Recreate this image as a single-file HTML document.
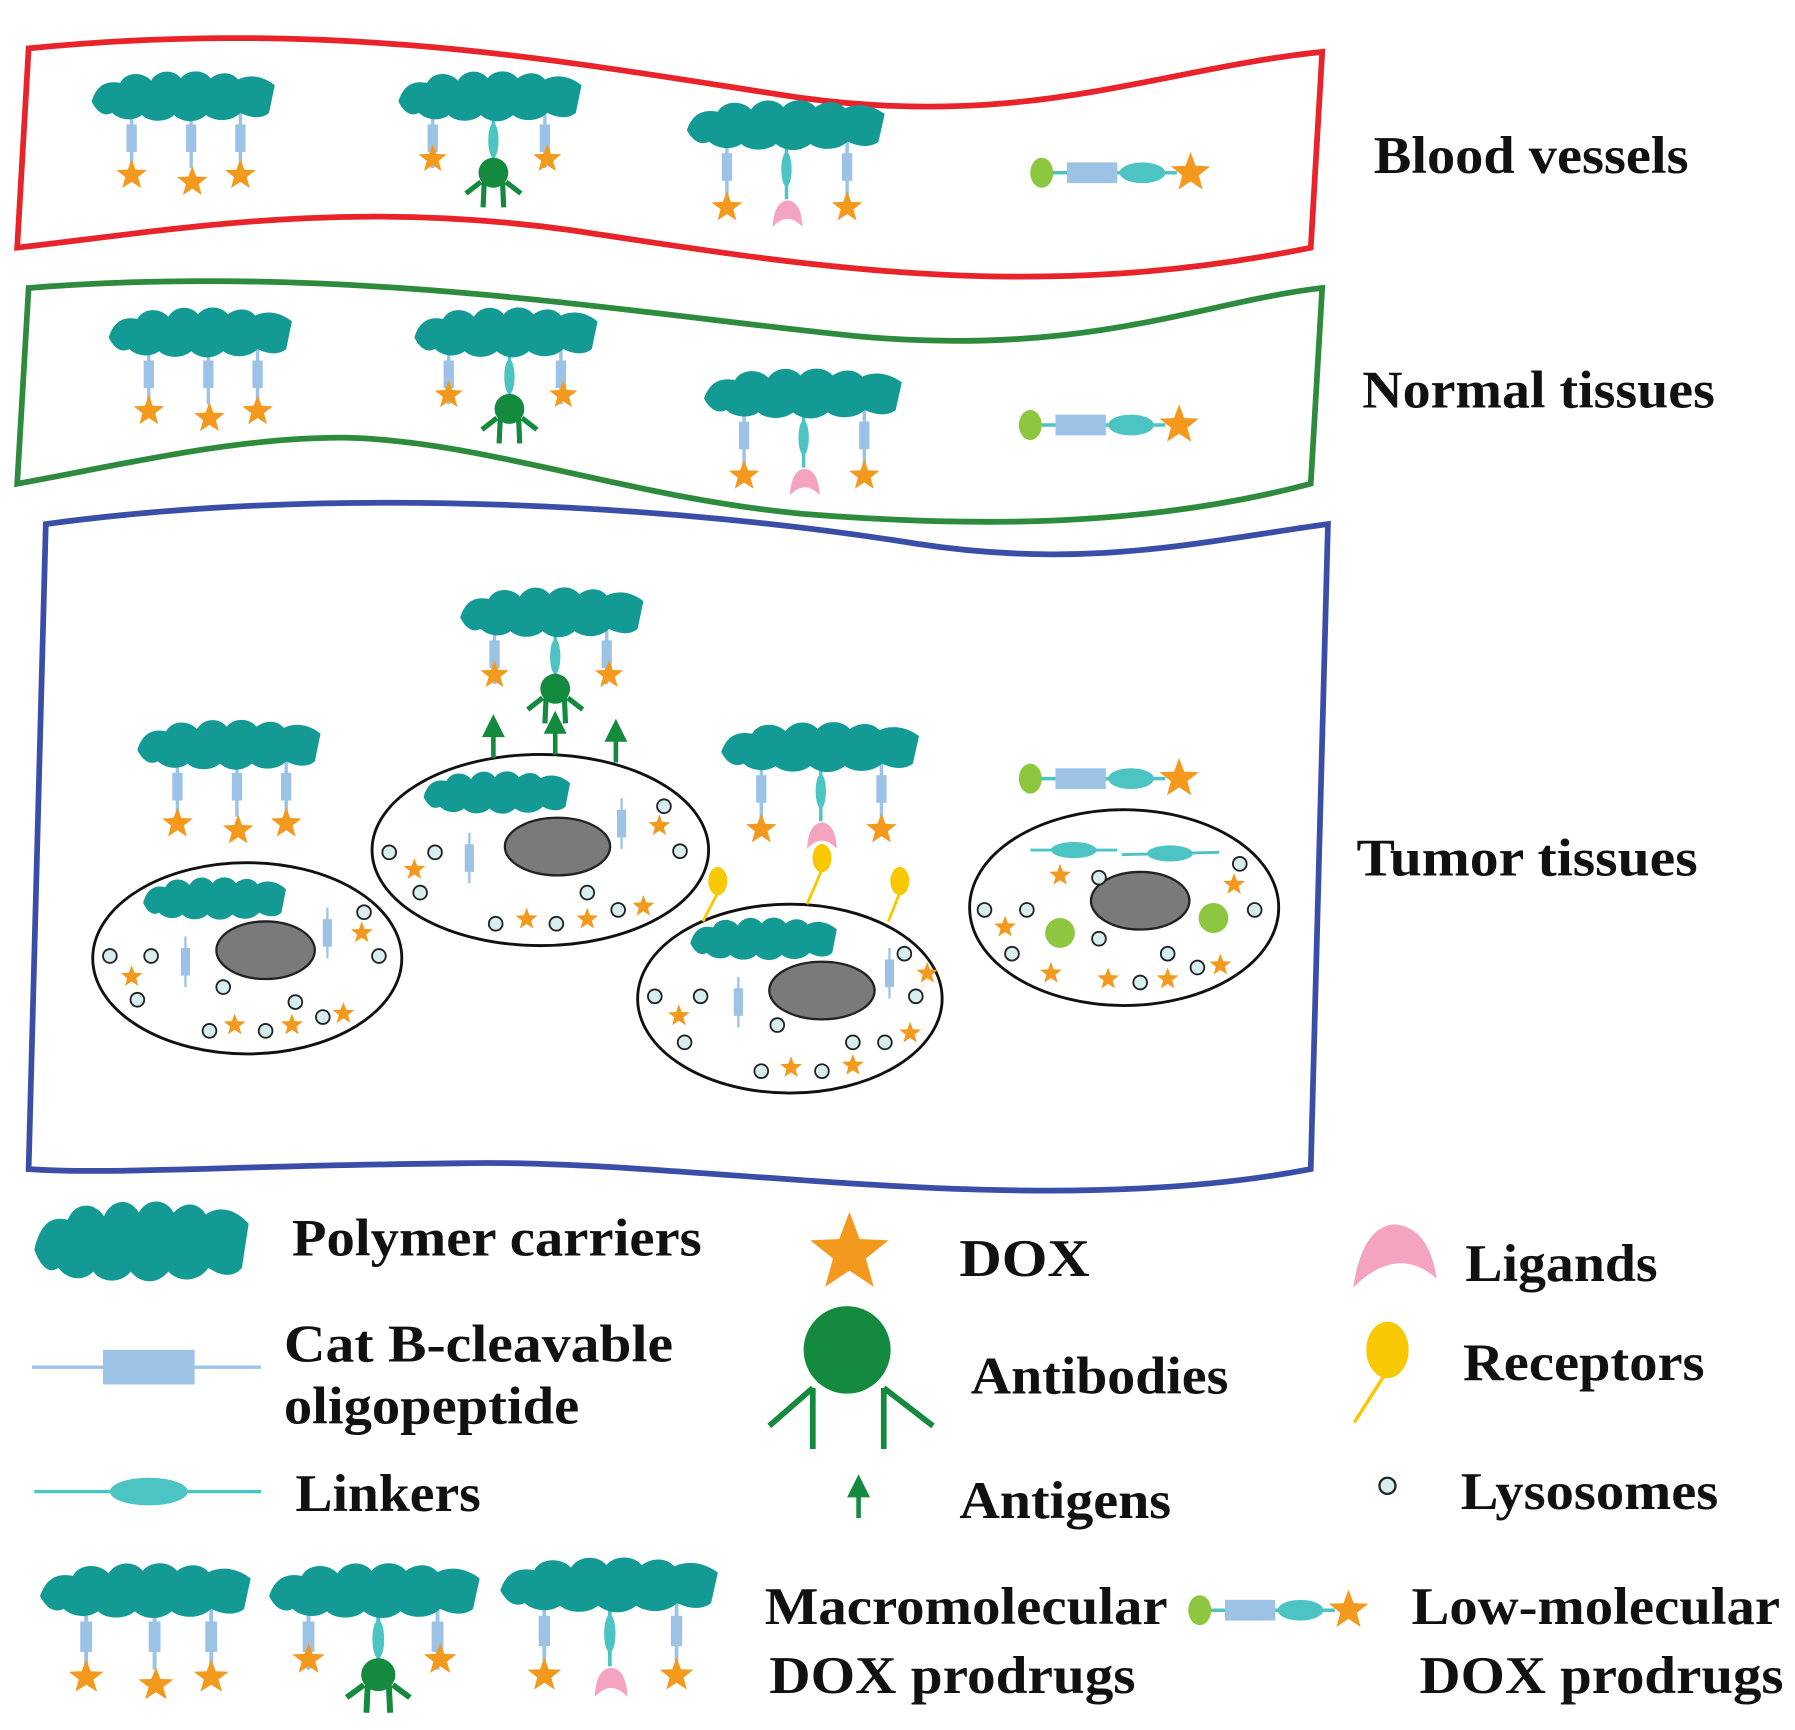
<!DOCTYPE html>
<html><head><meta charset="utf-8"><style>html,body{margin:0;padding:0;background:#fff}svg{display:block}</style></head><body>
<svg width="1795" height="1730" viewBox="0 0 1568 1502" preserveAspectRatio="none" xmlns="http://www.w3.org/2000/svg">
<defs>
<polygon id="st" points="0,-1 .247,-.34 .951,-.309 .399,.13 .588,.809 0,.42 -.588,.809 -.399,.13 -.951,-.309 -.247,-.34" fill="#f39a1e"/>
<g id="poly" fill="#139a94">
<path d="M0,28 C5,12 15,10 25,12 C30,2 45,2 52,10 C58,0 72,0 78,8 C84,0 98,0 104,8 C112,2 122,2 128,9 C138,4 150,6 160,14 L155,38 C148,44 138,42 130,38 C122,46 108,46 100,40 C92,47 80,47 72,40 C64,47 50,46 44,40 C36,46 24,44 18,38 C10,42 4,36 0,28 Z"/>
</g>
<g id="bp"><line x1="0" y1="0" x2="0" y2="50" stroke="#9cc3e6" stroke-width="3"/><rect x="-4.5" y="12" width="9" height="24" fill="#9cc3e6"/></g>
<g id="lk"><line x1="0" y1="0" x2="0" y2="50" stroke="#4cc4c4" stroke-width="3"/><ellipse cx="0" cy="24" rx="4.5" ry="15" fill="#4cc4c4"/></g>
<g id="ab" stroke="#148a3e" stroke-width="4.5" fill="none"><circle cx="0" cy="0" r="13" fill="#148a3e" stroke="none"/><path d="M-8,8 L-9,30 M8,8 L9,30 M-11,8 L-24,18 M11,8 L24,18"/></g>
<path id="cr" d="M-13,12 Q-12,-10 0,-11 Q12,-10 13,12 Q0,-2 -13,12 Z" fill="#f4a3c0"/>
<g id="pA"><use href="#bp" x="35" y="36"/><use href="#bp" x="87" y="36"/><use href="#bp" x="130" y="36"/><use href="#poly"/>
<use href="#st" transform="translate(35,92) scale(14)"/><use href="#st" transform="translate(88,98) scale(14)"/><use href="#st" transform="translate(130,92) scale(14)"/></g>
<g id="pB"><use href="#bp" x="30" y="36"/><use href="#bp" x="128" y="36"/><use href="#lk" x="83" y="38"/><use href="#poly"/>
<use href="#st" transform="translate(30,78) scale(13)"/><use href="#st" transform="translate(130,78) scale(13)"/><use href="#ab" x="83" y="90"/></g>
<g id="pC"><use href="#bp" x="35" y="36"/><use href="#bp" x="140" y="36"/><use href="#lk" x="87" y="38"/><use href="#poly" transform="scale(1.08,1)"/>
<use href="#st" transform="translate(35,95) scale(14)"/><use href="#st" transform="translate(140,95) scale(14)"/><use href="#cr" x="88" y="100"/></g>
<g id="sm"><line x1="0" y1="0" x2="118" y2="0" stroke="#4cc4c4" stroke-width="3"/><ellipse cx="0" cy="0" rx="10" ry="13" fill="#8dc63f"/><rect x="22" y="-9" width="44" height="18" fill="#9cc3e6"/><ellipse cx="88" cy="0" rx="20" ry="9" fill="#4cc4c4"/><use href="#st" transform="translate(130,0) scale(18)"/></g>
<circle id="ly" r="6" fill="#d8eeee" stroke="#222" stroke-width="1.6"/>
<g id="sp" fill="#9cc3e6"><line x1="0" y1="-22" x2="0" y2="22" stroke="#9cc3e6" stroke-width="2"/><rect x="-4" y="-12" width="8" height="24"/></g>
</defs>
<rect width="1568" height="1502" fill="#fff"/>
<g fill="none" stroke-width="5">
<path d="M25,42 C300,15 500,55 700,85 C900,112 1010,60 1155,45 L1145,215 C900,265 700,230 500,200 C300,172 150,200 15,215 Z" stroke="#e8232a"/>
<path d="M25,250 C300,228 550,272 750,292 C950,310 1050,262 1155,250 L1145,420 C1000,458 850,458 700,446 C550,432 420,382 300,380 C200,380 100,405 15,420 Z" stroke="#2e8b3e"/>
<path d="M40,455 C300,420 600,440 800,472 C950,495 1050,470 1160,455 L1145,1015 C900,1062 600,1005 400,1010 C200,1012 100,1020 25,1015 Z" stroke="#3a4ea8"/>
</g>
<g font-family="Liberation Serif, serif" font-weight="bold" fill="#111" font-size="46" lengthAdjust="spacingAndGlyphs">
<text x="1200" y="150" textLength="275" lengthAdjust="spacingAndGlyphs">Blood vessels</text>
<text x="1190" y="354" textLength="308" lengthAdjust="spacingAndGlyphs">Normal tissues</text>
<text x="1185" y="760" textLength="298" lengthAdjust="spacingAndGlyphs">Tumor tissues</text>
</g>
<use href="#pA" x="80" y="60"/><use href="#pB" x="348" y="60"/><use href="#pC" x="600" y="85"/><use href="#sm" x="910" y="150"/>
<use href="#pA" x="95" y="265"/><use href="#pB" x="362" y="265"/><use href="#pC" x="615" y="318"/><use href="#sm" x="900" y="369"/>
<g stroke="#111" stroke-width="2.5" fill="#fff">
<ellipse cx="216" cy="832" rx="135" ry="83"/><ellipse cx="472" cy="738" rx="147" ry="83"/><ellipse cx="690" cy="867" rx="133" ry="82"/><ellipse cx="982" cy="788" rx="135" ry="85"/>
</g>
<g fill="#7a7a7a" stroke="#222" stroke-width="2"><ellipse cx="232" cy="825" rx="43" ry="25"/><ellipse cx="487" cy="735" rx="46" ry="25"/><ellipse cx="718" cy="860" rx="46" ry="25"/><ellipse cx="996" cy="782" rx="43" ry="25"/></g>
<use href="#poly" transform="translate(125,760) scale(0.78,0.85)"/><use href="#poly" transform="translate(370,668) scale(0.8,0.85)"/><use href="#poly" transform="translate(603,795) scale(0.8,0.85)"/>
<use href="#sp" x="162" y="835"/><use href="#sp" x="286" y="810"/><use href="#sp" x="410" y="745"/><use href="#sp" x="543" y="715"/><use href="#sp" x="645" y="870"/><use href="#sp" x="777" y="845"/>
<g><use href="#ly" x="96" y="830"/><use href="#ly" x="132" y="830"/><use href="#ly" x="120" y="868"/><use href="#ly" x="195" y="857"/><use href="#ly" x="258" y="870"/><use href="#ly" x="318" y="792"/><use href="#ly" x="331" y="830"/><use href="#ly" x="282" y="883"/><use href="#ly" x="183" y="895"/><use href="#ly" x="232" y="895"/>
<use href="#ly" x="340" y="740"/><use href="#ly" x="380" y="740"/><use href="#ly" x="367" y="775"/><use href="#ly" x="433" y="802"/><use href="#ly" x="486" y="802"/><use href="#ly" x="513" y="775"/><use href="#ly" x="540" y="790"/><use href="#ly" x="580" y="700"/><use href="#ly" x="594" y="739"/>
<use href="#ly" x="572" y="865"/><use href="#ly" x="612" y="865"/><use href="#ly" x="598" y="905"/><use href="#ly" x="679" y="890"/><use href="#ly" x="665" y="930"/><use href="#ly" x="718" y="930"/><use href="#ly" x="745" y="905"/><use href="#ly" x="773" y="905"/><use href="#ly" x="790" y="828"/><use href="#ly" x="800" y="865"/>
<use href="#ly" x="860" y="790"/><use href="#ly" x="897" y="790"/><use href="#ly" x="884" y="828"/><use href="#ly" x="960" y="762"/><use href="#ly" x="960" y="815"/><use href="#ly" x="1020" y="828"/><use href="#ly" x="996" y="853"/><use href="#ly" x="1046" y="840"/><use href="#ly" x="1083" y="750"/><use href="#ly" x="1096" y="790"/></g>
<g><use href="#st" transform="translate(115,848) scale(10)"/><use href="#st" transform="translate(205,890) scale(10)"/><use href="#st" transform="translate(255,890) scale(10)"/><use href="#st" transform="translate(300,880) scale(10)"/><use href="#st" transform="translate(316,810) scale(10)"/>
<use href="#st" transform="translate(362,755) scale(10)"/><use href="#st" transform="translate(460,798) scale(10)"/><use href="#st" transform="translate(513,798) scale(10)"/><use href="#st" transform="translate(562,787) scale(10)"/><use href="#st" transform="translate(576,717) scale(10)"/>
<use href="#st" transform="translate(593,882) scale(10)"/><use href="#st" transform="translate(691,927) scale(10)"/><use href="#st" transform="translate(745,925) scale(10)"/><use href="#st" transform="translate(795,897) scale(10)"/><use href="#st" transform="translate(810,845) scale(10)"/>
<use href="#st" transform="translate(878,805) scale(10)"/><use href="#st" transform="translate(918,845) scale(10)"/><use href="#st" transform="translate(926,760) scale(10)"/><use href="#st" transform="translate(968,850) scale(10)"/><use href="#st" transform="translate(1020,850) scale(10)"/><use href="#st" transform="translate(1066,838) scale(10)"/><use href="#st" transform="translate(1078,768) scale(10)"/></g>
<g fill="#8dc63f"><circle cx="926" cy="810" r="13"/><circle cx="1060" cy="797" r="13"/></g>
<g><line x1="900" y1="738" x2="976" y2="738" stroke="#4cc4c4" stroke-width="2.5"/><ellipse cx="938" cy="738" rx="20" ry="7" fill="#4cc4c4"/><line x1="980" y1="742" x2="1065" y2="740" stroke="#4cc4c4" stroke-width="2.5"/><ellipse cx="1022" cy="741" rx="20" ry="7" fill="#4cc4c4"/></g>
<use href="#pB" x="402" y="508"/><use href="#pA" x="120" y="623"/><use href="#pC" x="630" y="625"/><use href="#sm" x="900" y="676"/>
<g fill="#148a3e" stroke="#148a3e" stroke-width="4"><line x1="431" y1="658" x2="431" y2="638"/><polygon points="421,640 441,640 431,620" stroke="none"/><line x1="485" y1="655" x2="485" y2="635"/><polygon points="475,637 495,637 485,617" stroke="none"/><line x1="538" y1="662" x2="538" y2="642"/><polygon points="528,644 548,644 538,624" stroke="none"/></g>
<g fill="#f8c900" stroke="#f8c900" stroke-width="2.5"><line x1="627" y1="775" x2="614" y2="800"/><ellipse cx="627" cy="765" rx="7" ry="11"/><line x1="718" y1="755" x2="705" y2="785"/><ellipse cx="718" cy="745" rx="7" ry="11"/><line x1="786" y1="775" x2="776" y2="800"/><ellipse cx="786" cy="765" rx="7" ry="11"/></g>
<use href="#poly" transform="translate(30,1040) scale(1.17,1.6)"/>
<g><line x1="28" y1="1187" x2="228" y2="1187" stroke="#9cc3e6" stroke-width="3"/><rect x="90" y="1172" width="80" height="30" fill="#9cc3e6"/>
<line x1="30" y1="1295" x2="228" y2="1295" stroke="#4cc4c4" stroke-width="3"/><ellipse cx="130" cy="1295" rx="34" ry="12" fill="#4cc4c4"/></g>
<use href="#pA" transform="translate(35,1355) scale(1.15,1.1)"/><use href="#pB" transform="translate(235,1355) scale(1.15,1.1)"/><use href="#pC" transform="translate(437,1350) scale(1.1,1.1)"/>
<use href="#st" transform="translate(742,1088) scale(36)"/>
<g stroke="#148a3e" stroke-width="5" fill="none"><circle cx="740" cy="1172" r="38" fill="#148a3e" stroke="none"/><path d="M710,1205 L710,1258 M772,1205 L772,1258 M710,1205 L672,1238 M772,1205 L815,1238"/></g>
<g fill="#148a3e" stroke="#148a3e" stroke-width="4"><line x1="750" y1="1318" x2="750" y2="1298"/><polygon points="740,1300 760,1300 750,1280" stroke="none"/></g>
<path d="M1182,1118 Q1190,1065 1218,1063 Q1248,1065 1255,1110 Q1220,1080 1182,1118 Z" fill="#f4a3c0"/>
<g fill="#f8c900" stroke="#f8c900" stroke-width="3"><line x1="1212" y1="1190" x2="1183" y2="1235"/><ellipse cx="1212" cy="1172" rx="17" ry="23"/></g>
<circle cx="1212" cy="1290" r="7" fill="#d8eeee" stroke="#222" stroke-width="2"/>
<use href="#sm" x="1048" y="1398"/>
<g font-family="Liberation Serif, serif" font-weight="bold" fill="#111" font-size="46">
<text x="255" y="1090" textLength="358" lengthAdjust="spacingAndGlyphs">Polymer carriers</text>
<text x="248" y="1182" textLength="340" lengthAdjust="spacingAndGlyphs">Cat B-cleavable</text>
<text x="248" y="1236" textLength="258" lengthAdjust="spacingAndGlyphs">oligopeptide</text>
<text x="258" y="1312" textLength="162" lengthAdjust="spacingAndGlyphs">Linkers</text>
<text x="838" y="1108" textLength="114" lengthAdjust="spacingAndGlyphs">DOX</text>
<text x="848" y="1210" textLength="225" lengthAdjust="spacingAndGlyphs">Antibodies</text>
<text x="838" y="1318" textLength="185" lengthAdjust="spacingAndGlyphs">Antigens</text>
<text x="1280" y="1112" textLength="168" lengthAdjust="spacingAndGlyphs">Ligands</text>
<text x="1278" y="1198" textLength="211" lengthAdjust="spacingAndGlyphs">Receptors</text>
<text x="1276" y="1310" textLength="225" lengthAdjust="spacingAndGlyphs">Lysosomes</text>
<text x="668" y="1410" textLength="352" lengthAdjust="spacingAndGlyphs">Macromolecular</text>
<text x="672" y="1470" textLength="320" lengthAdjust="spacingAndGlyphs">DOX prodrugs</text>
<text x="1233" y="1410" textLength="322" lengthAdjust="spacingAndGlyphs">Low-molecular</text>
<text x="1240" y="1470" textLength="318" lengthAdjust="spacingAndGlyphs">DOX prodrugs</text>
</g>
</svg>
</body></html>
